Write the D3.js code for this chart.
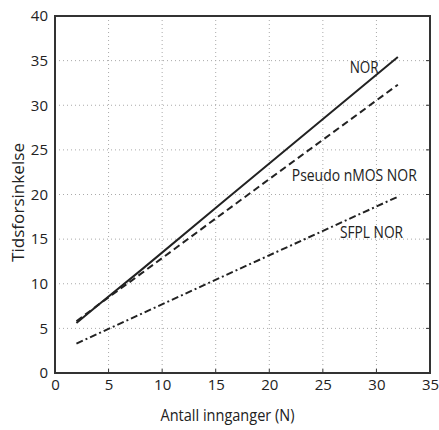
<!DOCTYPE html>
<html>
<head>
<meta charset="utf-8">
<script src="https://cdn.jsdelivr.net/npm/d3@7"></script>
<style>
  body { margin: 0; background: #fff; }
  text { font-family: "Open Sans", "DejaVu Sans", sans-serif; fill: #222; }
</style>
</head>
<body>
<div id="chart"></div>
<script>
var svgWidth = 439;
var svgHeight = 430;

var margin = { top: 16, right: 9, bottom: 57, left: 55 };
var plotWidth = svgWidth - margin.left - margin.right;
var plotHeight = svgHeight - margin.top - margin.bottom;

// data
var inputs = [2, 4, 8, 16, 32];
var norDelay = [5.6, 7.6, 11.5, 19.5, 35.4];
var pseudoDelay = [5.8, 7.6, 11.1, 18.2, 32.3];
var sfplDelay = [3.3, 4.4, 6.6, 11.0, 19.75];
var xTicks = [0, 5, 10, 15, 20, 25, 30, 35];
var yTicks = [0, 5, 10, 15, 20, 25, 30, 35, 40];

var seriesNames = ["NOR", "Pseudo nMOS NOR", "SFPL NOR"];
var series = [norDelay, pseudoDelay, sfplDelay];
var dashes = [null, "7,4", "7,3,2,3"];

var svg = d3.select("#chart")
  .append("svg")
  .attr("width", svgWidth)
  .attr("height", svgHeight);

var plot = svg.append("g")
  .attr("transform", `translate(${margin.left}, ${margin.top})`);

var xScale = d3.scaleLinear().domain([0, 35]).range([0, plotWidth]);
var yScale = d3.scaleLinear().domain([0, 40]).range([plotHeight, 0]);

// grid
plot.append("g")
  .selectAll("line")
  .data(xTicks.slice(1, -1))
  .enter()
  .append("line")
  .attr("x1", d => xScale(d)).attr("x2", d => xScale(d))
  .attr("y1", 0).attr("y2", plotHeight)
  .attr("stroke", "#aaa").attr("stroke-dasharray", "1,3");

plot.append("g")
  .selectAll("line")
  .data(yTicks.slice(1, -1))
  .enter()
  .append("line")
  .attr("y1", d => yScale(d)).attr("y2", d => yScale(d))
  .attr("x1", 0).attr("x2", plotWidth)
  .attr("stroke", "#aaa").attr("stroke-dasharray", "1,3");

// axes
var bottomAxis = d3.axisBottom(xScale).tickValues(xTicks).tickSize(0).tickPadding(6);
var leftAxis = d3.axisLeft(yScale).tickValues(yTicks).tickSize(0).tickPadding(7);

var xAxisG = plot.append("g")
  .attr("transform", `translate(0, ${plotHeight})`)
  .call(bottomAxis);
var yAxisG = plot.append("g").call(leftAxis);

[xAxisG, yAxisG].forEach(function(g) {
  g.select(".domain").remove();
  g.selectAll("text").style("font-size", "15px").attr("fill", "#222");
});

// inward ticks on right and bottom
plot.append("g")
  .selectAll("line")
  .data(yTicks.slice(1, -1))
  .enter()
  .append("line")
  .attr("x1", plotWidth).attr("x2", plotWidth - 4)
  .attr("y1", d => yScale(d)).attr("y2", d => yScale(d))
  .attr("stroke", "#333").attr("stroke-width", 1);

plot.append("g")
  .selectAll("line")
  .data(xTicks.slice(1, -1))
  .enter()
  .append("line")
  .attr("y1", plotHeight).attr("y2", plotHeight - 4)
  .attr("x1", d => xScale(d)).attr("x2", d => xScale(d))
  .attr("stroke", "#333").attr("stroke-width", 1);

// frame
plot.append("rect")
  .attr("x", 0).attr("y", 0)
  .attr("width", plotWidth).attr("height", plotHeight)
  .attr("fill", "none")
  .attr("stroke", "#333")
  .attr("stroke-width", 2);

// lines
var line = d3.line()
  .x(d => xScale(d[0]))
  .y(d => yScale(d[1]));

series.forEach(function(vals, i) {
  plot.append("path")
    .datum(inputs.map((n, j) => [n, vals[j]]))
    .attr("d", line)
    .attr("fill", "none")
    .attr("stroke", "#222")
    .attr("stroke-width", 2)
    .attr("stroke-dasharray", dashes[i]);
});

// series labels
var labelPos = [
  { x: 27.5, y: 34.2, w: 29 },
  { x: 22.1, y: 22.1, w: 125 },
  { x: 26.6, y: 15.8, w: 63 }
];

seriesNames.forEach(function(name, i) {
  plot.append("text")
    .attr("x", xScale(labelPos[i].x))
    .attr("y", yScale(labelPos[i].y))
    .attr("dy", "0.35em")
    .attr("textLength", labelPos[i].w)
    .attr("lengthAdjust", "spacingAndGlyphs")
    .style("font-size", "16px")
    .text(name);
});

// axis titles
svg.append("text")
  .attr("x", 227.5)
  .attr("y", 415)
  .attr("dy", "0.35em")
  .attr("text-anchor", "middle")
  .attr("textLength", 134)
  .attr("lengthAdjust", "spacingAndGlyphs")
  .style("font-size", "17px")
  .text("Antall innganger (N)");

svg.append("text")
  .attr("transform", "translate(18, 202.5) rotate(-90)")
  .attr("dy", "0.35em")
  .attr("text-anchor", "middle")
  .attr("textLength", 119)
  .attr("lengthAdjust", "spacingAndGlyphs")
  .style("font-size", "17px")
  .text("Tidsforsinkelse");
</script>
</body>
</html>
